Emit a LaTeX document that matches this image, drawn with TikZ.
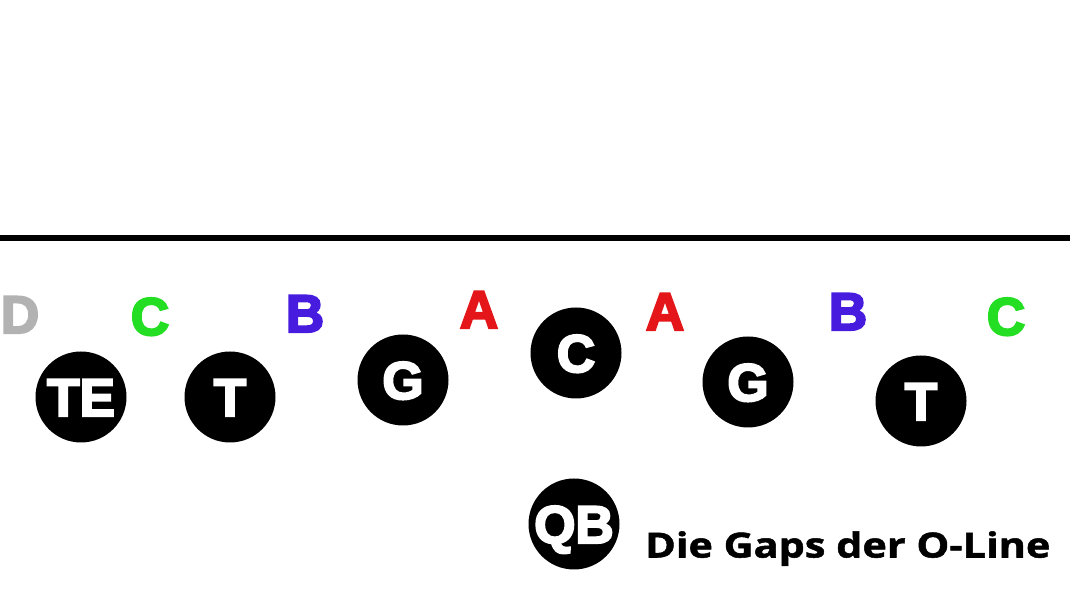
\documentclass[tikz,border=0pt]{standalone}
\usepackage{fontspec}
\newfontfamily\heavyfont[BoldFont={Liberation Sans Bold},BoldFeatures={FakeBold=4}]{Liberation Sans}
\newfontfamily\capfont[BoldFeatures={FakeStretch=1.2,FakeBold=1.5}]{Open Sans}
\definecolor{gapD}{RGB}{178,178,178}
\definecolor{gapC}{RGB}{36,222,36}
\definecolor{gapB}{RGB}{72,28,222}
\definecolor{gapA}{RGB}{228,22,26}
\begin{document}
\begin{tikzpicture}[x=1pt,y=1pt,
      player/.style={circle,fill=black,minimum size=91pt,inner sep=0pt,text=white,
        font=\heavyfont\bfseries\fontsize{53}{53}\selectfont,text height=38pt,text depth=0pt},
      gap/.style={inner sep=0pt,font=\heavyfont\bfseries\fontsize{53}{53}\selectfont,
        text height=38pt,text depth=0pt},
      caption/.style={inner sep=0pt,anchor=base west,font=\capfont\bfseries\fontsize{34.5}{34.5}\selectfont}
    ]
      \useasboundingbox (0,0) rectangle (1070,601);

      % line of scrimmage
      \coordinate (losw) at (0,363);
      \coordinate (lose) at (1070,363);
      \draw[line width=5.5pt] (losw) -- (lose);

      % gaps
      \node[gap,text=gapD] (gd)  at (20,287)   {D};
      \node[gap,text=gapC] (gcl) at (150,285)  {C};
      \node[gap,text=gapB] (gbl) at (305,288)  {B};
      \node[gap,text=gapA] (gal) at (479,292)  {A};
      \node[gap,text=gapA] (gar) at (665,290)  {A};
      \node[gap,text=gapB] (gbr) at (848,290)  {B};
      \node[gap,text=gapC] (gcr) at (1006,285) {C};

      % offensive line
      \node[player] (te) at (81,204)  {TE};
      \node[player] (lt) at (230,204) {T};
      \node[player] (lg) at (403,221) {G};
      \node[player] (c)  at (576,248) {C};
      \node[player] (rg) at (748,219) {G};
      \node[player] (rt) at (921,200) {T};

      % backfield
      \node[player] (qb) at (574,77) {QB};
      \node[caption] (cap) at (645,43.5) {Die Gaps der O-Line};
    \end{tikzpicture}
\end{document}
